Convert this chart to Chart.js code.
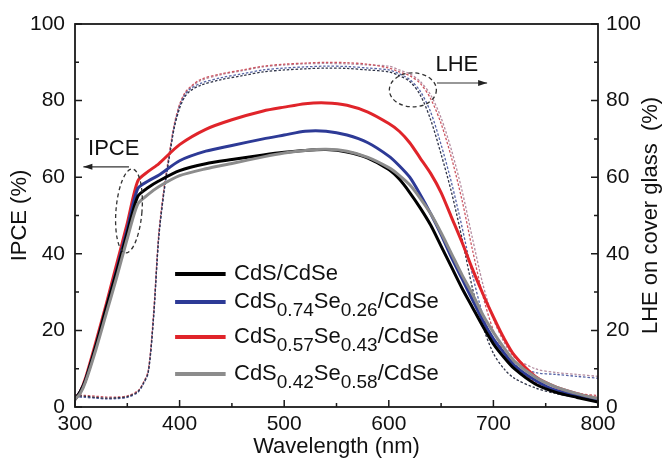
<!DOCTYPE html>
<html>
<head>
<meta charset="utf-8">
<script src="https://cdn.jsdelivr.net/npm/chart.js@4.4.1/dist/chart.umd.min.js"></script>
<style>
  html, body { margin: 0; padding: 0; background: #fff; }
</style>
</head>
<body>
<canvas id="ipceChart" width="666" height="468"></canvas>
<script>
// IPCE spectra of the four CdS(x)Se(1-x)/CdSe cells, with the LHE curves on the right axis

"use strict";

const FONT = '"Liberation Sans", Arial, Helvetica, sans-serif';

// IPCE (%)
const ipceWavelength = [300, 305, 310, 320, 330, 340, 350, 360, 370, 380, 400, 425, 450, 480, 500, 520, 540, 560, 580,
  600, 610, 620, 630, 640, 650, 660, 670, 680, 690, 700, 710, 720, 740, 760, 780, 800];
const ipceCdS = [2, 4, 7, 16, 26, 35.5, 45.5, 55, 57.3, 59, 61.7, 63.5, 64.6, 65.8, 66.5, 67, 67.2, 66.6, 65,
  62, 59.5, 56, 52, 47.5, 42, 36.5, 31, 26, 21, 16.5, 13, 10, 6, 3.8, 2.5, 1.3];
const ipce074 = [2, 4, 7, 16, 26, 36, 46.5, 57, 59, 60.5, 64.3, 66.8, 68.3, 70, 71, 72, 72, 71, 69,
  65.5, 63, 60, 55.5, 50.5, 45, 39, 33.5, 28, 22.5, 17.8, 14.2, 10.9, 7, 4.3, 3, 1.7];
const ipce057 = [2, 4, 7.5, 17, 27, 37.5, 48, 59, 61.5, 63.5, 68.5, 72.5, 75, 77.3, 78.3, 79.2, 79.4, 78.8, 77,
  74, 72, 69, 65, 61, 56, 49.5, 43, 36, 29.5, 23.5, 18, 13.5, 8, 5.2, 3.5, 2.2];
const ipce042 = [2, 3.5, 6.5, 15, 24.5, 34, 44, 53, 55.5, 57.5, 60.4, 62.2, 63.6, 65.3, 66.3, 67, 67.3, 66.8, 65.2,
  62.5, 60.5, 58, 54.5, 50.5, 45.5, 40, 34.5, 29.5, 24, 19.5, 15.5, 12, 7.8, 5.2, 3.5, 2.2];

// LHE on cover glass (%)
const lheWavelength = [300, 310, 320, 330, 340, 350, 360, 365, 370, 375, 380, 385, 390, 395, 400, 405, 410, 420, 440,
  460, 480, 500, 520, 540, 560, 580, 600, 610, 620, 630, 640, 650, 660, 670, 680, 690, 700, 710, 720, 740, 760, 780, 800];
const lheCdS = [3, 2.8, 2.5, 2.3, 2.4, 2.7, 4, 6, 9, 23, 44, 56, 65, 73, 78, 81, 82.5, 84, 85.5,
  86.5, 87.5, 88, 88.3, 88.5, 88.4, 88, 87.5, 86.5, 85, 81.5, 75, 66, 56, 44, 31, 21, 14, 10, 7.5, 5, 3.5, 2.5, 1.5];
const lhe074 = [2.6, 2.5, 2.3, 2.1, 2.2, 2.5, 3.8, 5.8, 9, 23, 44, 56, 65, 73.5, 78.5, 81.5, 83, 84.5, 86,
  87, 88, 88.5, 88.8, 89, 88.9, 88.5, 88, 87, 85.5, 82.5, 77, 68.5, 58.5, 47, 34.5, 24, 17, 13, 11, 9, 8.5, 8, 7.5];
const lhe057 = [3.2, 3, 2.8, 2.6, 2.6, 2.9, 4.2, 6.2, 9.5, 24, 45, 57, 66, 74, 79, 82, 83.5, 85.5, 87,
  88, 89, 89.5, 89.8, 90, 89.9, 89.5, 88.5, 87.5, 86.5, 84.5, 80.5, 74, 65, 54, 41, 29, 20, 14.5, 10.5, 6.5, 4.5, 3.5, 3];
const lhe042 = [2.8, 2.7, 2.4, 2.2, 2.3, 2.6, 4, 6, 9.2, 23.5, 44.5, 56.5, 65.5, 73.5, 78.8, 81.8, 83.3, 85.2, 86.8,
  87.8, 88.8, 89.3, 89.6, 89.7, 89.6, 89.3, 89, 88, 87, 85, 81.5, 75.5, 67, 56.5, 44, 32, 23, 17, 13, 10, 9, 8.5, 8];

const seriesColors = ["#000000", "#2d3a96", "#e0242a", "#8c8c8c"];
const lheColors = ["#2e3348", "#5664a6", "#cc5560", "#b48ca0"];

// legend rows: [text, subscript?] pieces
const legendRows = [
  [["CdS/CdSe", false]],
  [["CdS", false], ["0.74", true], ["Se", false], ["0.26", true], ["/CdSe", false]],
  [["CdS", false], ["0.57", true], ["Se", false], ["0.43", true], ["/CdSe", false]],
  [["CdS", false], ["0.42", true], ["Se", false], ["0.58", true], ["/CdSe", false]]
];
const legendRowY = [34.7, 27.4, 18.3, 8.6];   // in IPCE %
const legendLineX = [395.7, 444];             // in nm
const legendTextX = 452;

let pts = function (xs, ys) { return xs.map(function (v, i) { return {x: v, y: ys[i]}; }); };

let ipceSet = function (ys, color) {
  return {data: pts(ipceWavelength, ys), borderColor: color, borderWidth: 3, pointRadius: 0,
    fill: false, tension: 0.25, yAxisID: "y"};
};
let lheSet = function (ys, color) {
  return {data: pts(lheWavelength, ys), borderColor: color, borderWidth: 1.3, borderDash: [2.5, 1.8],
    pointRadius: 0, fill: false, tension: 0.3, yAxisID: "y2"};
};

// first dataset is painted last, so the solid IPCE curves go first
const datasets = [
  ipceSet(ipce042, seriesColors[3]),
  ipceSet(ipceCdS, seriesColors[0]),
  ipceSet(ipce074, seriesColors[1]),
  ipceSet(ipce057, seriesColors[2]),
  lheSet(lheCdS, lheColors[0]),
  lheSet(lhe074, lheColors[1]),
  lheSet(lhe057, lheColors[2]),
  lheSet(lhe042, lheColors[3])
];

let arrow = function (ctx, x0, y0, x1, y1) {
  ctx.beginPath();
  ctx.moveTo(x0, y0);
  ctx.lineTo(x1, y1);
  ctx.stroke();
  const dir = Math.sign(x1 - x0);
  ctx.beginPath();
  ctx.moveTo(x1, y1);
  ctx.lineTo(x1 - dir * 9, y1 - 3);
  ctx.lineTo(x1 - dir * 9, y1 + 3);
  ctx.closePath();
  ctx.fill();
};

const decor = {
  id: "decor",
  afterDatasetsDraw(chart) {
    const ctx = chart.ctx, a = chart.chartArea;
    const sx = chart.scales.x, sy = chart.scales.y;
    ctx.save();

    // frame and inward ticks
    ctx.strokeStyle = "#1a1a1a";
    ctx.lineWidth = 1.8;
    ctx.strokeRect(a.left, a.top, a.right - a.left, a.bottom - a.top);
    ctx.lineWidth = 1.5;
    ctx.beginPath();
    for (let v = 300; v <= 800; v += 50) {
      const px = sx.getPixelForValue(v), len = v % 100 === 0 ? 7 : 4;
      ctx.moveTo(px, a.bottom); ctx.lineTo(px, a.bottom - len);
    }
    for (let v = 0; v <= 100; v += 10) {
      const py = sy.getPixelForValue(v), len = v % 20 === 0 ? 7 : 4;
      ctx.moveTo(a.left, py); ctx.lineTo(a.left + len, py);
      ctx.moveTo(a.right, py); ctx.lineTo(a.right - len, py);
    }
    ctx.stroke();

    // legend
    ctx.textBaseline = "middle";
    ctx.textAlign = "left";
    legendRows.forEach(function (row, i) {
      const py = sy.getPixelForValue(legendRowY[i]);
      ctx.strokeStyle = seriesColors[i];
      ctx.lineWidth = 4;
      ctx.beginPath();
      ctx.moveTo(sx.getPixelForValue(legendLineX[0]), py);
      ctx.lineTo(sx.getPixelForValue(legendLineX[1]), py);
      ctx.stroke();
      let px = sx.getPixelForValue(legendTextX);
      ctx.fillStyle = "#111";
      row.forEach(function (part) {
        ctx.font = (part[1] ? "19px " : "22px ") + FONT;
        ctx.fillText(part[0], px, part[1] ? py + 9 : py);
        px += ctx.measureText(part[0]).width;
      });
    });

    // annotations: IPCE and LHE markers
    ctx.strokeStyle = "#333";
    ctx.fillStyle = "#222";
    ctx.lineWidth = 1.3;
    ctx.setLineDash([4, 3]);
    ctx.beginPath();
    ctx.ellipse(sx.getPixelForValue(351.6), sy.getPixelForValue(51.2), 13, 42, 0.08, 0, Math.PI * 2);
    ctx.stroke();
    ctx.beginPath();
    ctx.ellipse(sx.getPixelForValue(623), sy.getPixelForValue(82.8), 23.5, 17, 0, 0, Math.PI * 2);
    ctx.stroke();
    ctx.setLineDash([]);
    ctx.lineWidth = 1.1;
    arrow(ctx, sx.getPixelForValue(351.6), sy.getPixelForValue(62.7), sx.getPixelForValue(308), sy.getPixelForValue(62.7));
    arrow(ctx, sx.getPixelForValue(646), sy.getPixelForValue(84.6), sx.getPixelForValue(694), sy.getPixelForValue(84.6));
    ctx.font = "22px " + FONT;
    ctx.textAlign = "center";
    ctx.fillStyle = "#111";
    ctx.fillText("IPCE", sx.getPixelForValue(337), sy.getPixelForValue(67.4));
    ctx.fillText("LHE", sx.getPixelForValue(665), sy.getPixelForValue(89.3));

    // right axis title, read bottom to top
    ctx.translate(651, (a.top + a.bottom) / 2);
    ctx.rotate(-Math.PI / 2);
    ctx.fillText("LHE on cover glass  (%)", 0, 0);
    ctx.restore();
  }
};

const tickFont = {family: FONT, size: 21};
const titleFont = {family: FONT, size: 22};

const config = {
  type: "line",
  data: {datasets},
  options: {
    responsive: false,
    animation: false,
    devicePixelRatio: 1,
    layout: {padding: {top: 24, left: 0, right: 0, bottom: 0}},
    plugins: {legend: {display: false}, tooltip: {enabled: false}},
    scales: {
      x: {
        type: "linear", min: 300, max: 800,
        ticks: {stepSize: 100, padding: 5, font: tickFont, color: "#111", maxRotation: 0},
        grid: {display: false, drawTicks: false},
        border: {display: false},
        title: {display: true, text: "Wavelength (nm)", font: titleFont, color: "#111", padding: {top: 0, bottom: 8}},
        afterFit(s) { s.height = 61; }
      },
      y: {
        position: "left", min: 0, max: 100,
        ticks: {stepSize: 20, padding: 10, font: tickFont, color: "#111"},
        grid: {display: false, drawTicks: false},
        border: {display: false},
        title: {display: true, text: "IPCE (%)", font: titleFont, color: "#111", padding: {top: 7, bottom: 0}},
        afterFit(s) { s.width = 75; }
      },
      y2: {
        position: "right", min: 0, max: 100,
        ticks: {stepSize: 20, padding: 8, font: tickFont, color: "#111"},
        grid: {display: false, drawTicks: false},
        border: {display: false},
        afterFit(s) { s.width = 68; }
      }
    }
  },
  plugins: [decor]
};

const ipceChart = new Chart(document.getElementById("ipceChart").getContext("2d"), config);
</script>
</body>
</html>
